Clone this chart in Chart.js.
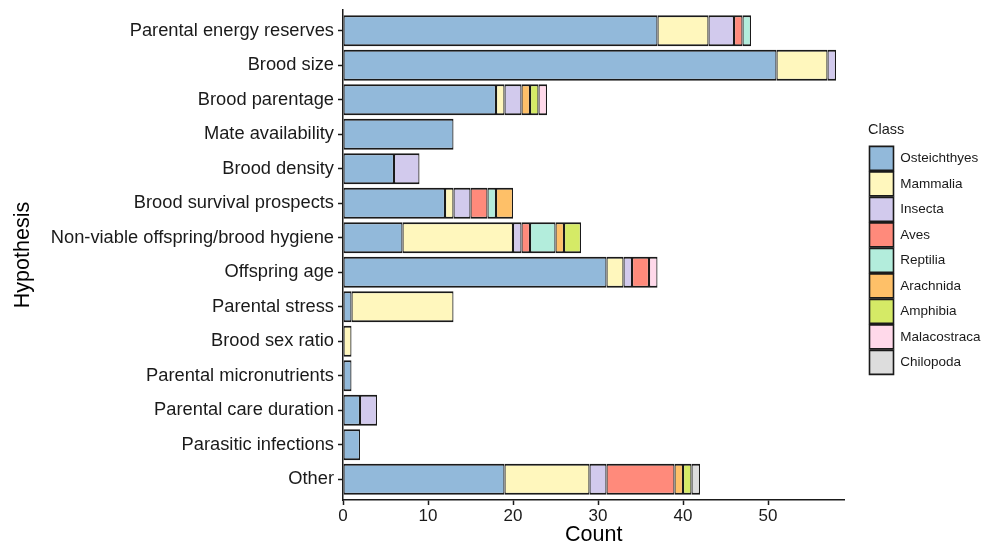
<!DOCTYPE html>
<html>
<head>
<meta charset="utf-8">
<script src="https://cdn.jsdelivr.net/npm/chart.js@4"></script>
<style>
  html, body { margin: 0; padding: 0; background: #fff; }
  #wrap { width: 985px; height: 543px; }
</style>
</head>
<body>
<div id="wrap"><canvas id="hypothesisChart" width="985" height="543"></canvas></div>
<script>
// Hypotheses, top to bottom
const hypotheses = [
  "Parental energy reserves", "Brood size", "Brood parentage", "Mate availability",
  "Brood density", "Brood survival prospects", "Non-viable offspring/brood hygiene",
  "Offspring age", "Parental stress", "Brood sex ratio", "Parental micronutrients",
  "Parental care duration", "Parasitic infections", "Other"
];

// Counts per class, one value per hypothesis (same order as above)
const osteichthyes = [37, 51, 18, 13, 6, 12, 7, 31, 1, 0, 1, 2, 2, 19];
const mammalia     = [6, 6, 1, 0, 0, 1, 13, 2, 12, 1, 0, 0, 0, 10];
const insecta      = [3, 1, 2, 0, 3, 2, 1, 1, 0, 0, 0, 2, 0, 2];
const aves         = [1, 0, 0, 0, 0, 2, 1, 2, 0, 0, 0, 0, 0, 8];
const reptilia     = [1, 0, 0, 0, 0, 1, 3, 0, 0, 0, 0, 0, 0, 0];
const arachnida    = [0, 0, 1, 0, 0, 2, 1, 0, 0, 0, 0, 0, 0, 1];
const amphibia     = [0, 0, 1, 0, 0, 0, 2, 0, 0, 0, 0, 0, 0, 1];
const malacostraca = [0, 0, 1, 0, 0, 0, 0, 1, 0, 0, 0, 0, 0, 0];
const chilopoda    = [0, 0, 0, 0, 0, 0, 0, 0, 0, 0, 0, 0, 0, 1];

const xTicks = [0, 10, 20, 30, 40, 50];

const classes = [
  { name: "Osteichthyes", values: osteichthyes, color: "#92B9DA" },
  { name: "Mammalia", values: mammalia, color: "#FFF7BD" },
  { name: "Insecta", values: insecta, color: "#D2CAED" },
  { name: "Aves", values: aves, color: "#FF8A7B" },
  { name: "Reptilia", values: reptilia, color: "#B3EDDC" },
  { name: "Arachnida", values: arachnida, color: "#FEC068" },
  { name: "Amphibia", values: amphibia, color: "#D5EA66" },
  { name: "Malacostraca", values: malacostraca, color: "#FFD9EA" },
  { name: "Chilopoda", values: chilopoda, color: "#DDDDDD" },
];

const ink = "#1a1a1a";
const fontFamily = "'Liberation Sans', Arial, Helvetica, sans-serif";

const ctx = document.getElementById("hypothesisChart").getContext("2d");

new Chart(ctx, {
  type: "bar",
  data: {
    datasets: classes.map((c) => ({
      label: c.name,
      // y is the row index so the axis can get ggplot-like padding
      data: c.values.map((v, i) => ({ x: v === 0 ? null : v, y: i })),
      backgroundColor: c.color,
      borderColor: ink,
      borderWidth: { top: 2, bottom: 2, left: 1.2, right: 1.2 },
      borderSkipped: false,
      grouped: false,
      categoryPercentage: 0.9,
      barPercentage: 1,
    })),
  },
  options: {
    indexAxis: "y",
    responsive: false,
    animation: false,
    layout: { padding: { top: 10, right: 0, left: 0, bottom: 0 } },
    plugins: {
      tooltip: { enabled: false },
      legend: {
        position: "right",
        align: "start",
        fullSize: false,
        maxWidth: 117,
        title: {
          display: true,
          text: "Class",
          position: "start",
          color: ink,
          font: { family: fontFamily, size: 14.5 },
          padding: { top: 112.5, bottom: 5 },
        },
        labels: {
          boxWidth: 24,
          boxHeight: 24,
          padding: 1.5,
          color: ink,
          font: { family: fontFamily, size: 13.5 },
        },
      },
    },
    scales: {
      x: {
        type: "linear",
        stacked: true,
        min: 0,
        max: 59,
        afterFit: (scale) => { scale.height = 43; },
        afterBuildTicks: (scale) => { scale.ticks = xTicks.map((v) => ({ value: v })); },
        grid: { drawOnChartArea: false, drawTicks: true, tickLength: 5, tickColor: ink, tickWidth: 1.5 },
        border: { display: true, color: ink, width: 1.5 },
        ticks: { color: ink, padding: 1, font: { family: fontFamily, size: 17 } },
        title: {
          display: true,
          text: "Count",
          color: "#000",
          font: { family: fontFamily, size: 21.5, lineHeight: 1 },
          padding: { top: 0, bottom: -3 },
        },
      },
      y: {
        type: "linear",
        reverse: true,
        offset: false,
        min: -0.6,
        max: hypotheses.length - 0.4,
        afterFit: (scale) => {
          scale.width = 343;
          scale.paddingTop = 0;
          scale.paddingBottom = 0;
        },
        afterBuildTicks: (scale) => { scale.ticks = hypotheses.map((_, i) => ({ value: i })); },
        grid: { offset: false, drawOnChartArea: false, drawTicks: true, tickLength: 5, tickColor: ink, tickWidth: 1.5 },
        border: { display: true, color: ink, width: 1.5 },
        ticks: {
          color: ink,
          padding: 4,
          font: { family: fontFamily, size: 18.3 },
          callback: (value) => hypotheses[value],
        },
        title: {
          display: true,
          text: "Hypothesis",
          color: "#000",
          font: { family: fontFamily, size: 21.5, lineHeight: 1 },
          padding: { top: 12, bottom: 0 },
        },
      },
      // empty axis that only keeps a gap between the plot and the legend
      gap: {
        type: "linear",
        position: "right",
        grid: { display: false },
        border: { display: false },
        ticks: { display: false },
        afterFit: (scale) => { scale.width = 23.5; },
      },
    },
  },
});
</script>
</body>
</html>
